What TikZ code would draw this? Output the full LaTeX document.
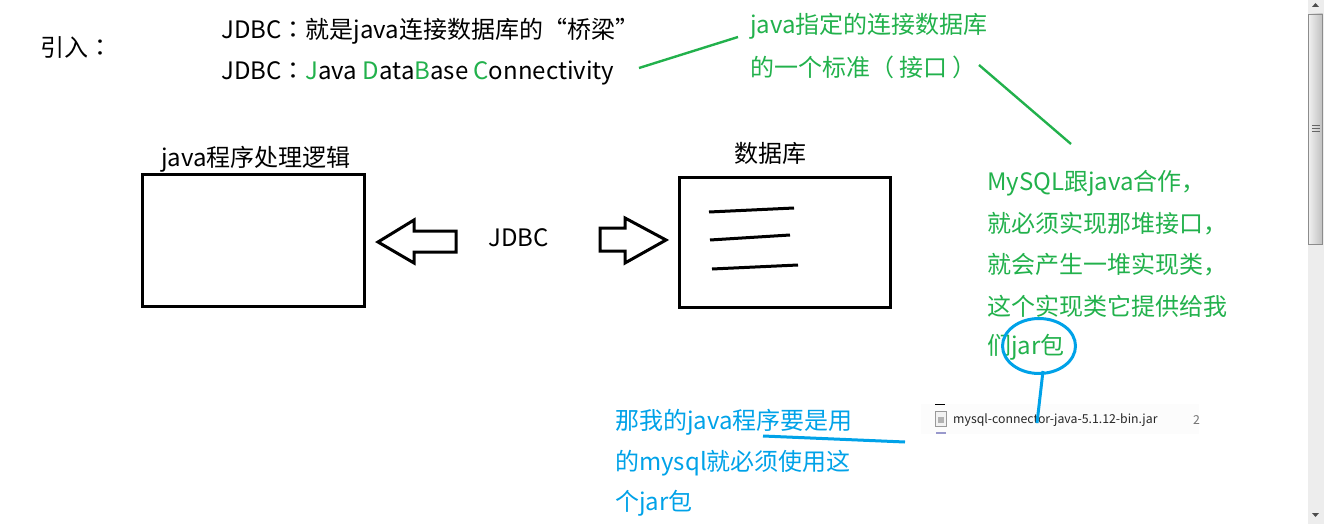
\documentclass[tikz,border=0pt]{standalone}
\usepackage{fontspec}
\setmainfont{Noto Sans CJK SC}
\newfontfamily\punct{Noto Sans CJK TC}
\usetikzlibrary{shapes.geometric}

\definecolor{notegreen}{RGB}{34,177,76}
\definecolor{noteblue}{RGB}{0,162,232}
\tikzset{
    txt/.style={anchor=west, inner sep=0pt, font=\fontsize{24}{28}\selectfont},
    greentxt/.style={txt, text=notegreen},
    bluetxt/.style={txt, text=noteblue},
    jartxt/.style={anchor=west, inner sep=0pt, font=\fontsize{12.3}{15}\selectfont},
    greenline/.style={draw=notegreen, line width=2.4pt},
    blueline/.style={draw=noteblue, line width=3pt},
    blackbox/.style={draw=black, line width=3pt},
}

\begin{document}
\begin{tikzpicture}[x=1pt, y=-1pt]
    \useasboundingbox (0,0) rectangle (1324,524);

    % top text
    \node[txt] (intro) at (40,48) {引入{\punct ：}};
    \node[txt] (def) at (221,31) {JDBC{\punct ：}就是java连接数据库的“桥梁”};
    \node[txt] (full) at (221,73) {JDBC{\punct ：}\textcolor{notegreen}{J}ava \textcolor{notegreen}{D}ata\textcolor{notegreen}{B}ase \textcolor{notegreen}{C}onnectivity};

    % green notes
    \node[greentxt] (std1) at (750,26) {java指定的连接数据库};
    \node[greentxt] (std2) at (750,67) {的一个标准{\punct （}\hspace{5pt}接口\hspace{5pt}{\punct ）}};
    \node[greentxt] (my1) at (987,183) {MySQL跟java合作，};
    \node[greentxt] (my2) at (987,224) {就必须实现那堆接口，};
    \node[greentxt] (my3) at (987,265) {就会产生一堆实现类，};
    \node[greentxt] (my4) at (987,306) {这个实现类它提供给我};
    \node[greentxt] (my5) at (987,347) {们jar包};

    \coordinate (g1a) at (639,68);
    \coordinate (g1b) at (738,37);
    \coordinate (g2a) at (979,65);
    \coordinate (g2b) at (1071,144);
    \draw[greenline] (g1a) -- (g1b);
    \draw[greenline] (g2a) -- (g2b);

    % boxes
    \node[txt] (prog) at (161,159) {java程序处理逻辑};
    \node[txt] (db) at (734,153) {数据库};
    \node[blackbox, minimum width=222pt, minimum height=132pt, inner sep=0pt] (progbox) at (253,240) {};
    \node[blackbox, minimum width=211pt, minimum height=130pt, inner sep=0pt] (dbbox) at (785,242) {};
    \node[txt] (jdbc) at (488,238) {JDBC};

    % arrows
    \draw[blackbox, line join=miter] (456,231) -- (414,231) -- (414,220) -- (378,242) -- (414,263) -- (414,252) -- (456,252) -- cycle;
    \draw[blackbox, line join=miter] (600,228) -- (625,228) -- (625,218) -- (666,240) -- (625,263) -- (625,251) -- (600,251) -- cycle;

    % lines in the db box
    \coordinate (l1a) at (709,212);
    \coordinate (l1b) at (794,208);
    \coordinate (l2a) at (710,240);
    \coordinate (l2b) at (790,235);
    \coordinate (l3a) at (712,269);
    \coordinate (l3b) at (798,265);
    \draw[blackbox] (l1a) -- (l1b);
    \draw[blackbox] (l2a) -- (l2b);
    \draw[blackbox] (l3a) -- (l3b);

    % jar file strip
    \fill[black!1] (921,404) rectangle (1199,434);
    \node[inner sep=0pt, draw=black!40, fill=black!5, minimum width=11pt, minimum height=15pt] (jaricon) at (941,419) {};
    \fill[black!30] (938,417) rectangle (944,423);
    \fill[black] (935,404) rectangle (945,405);
    \fill[blue!50!black!40] (936,432) rectangle (946,434);
    \node[jartxt, text=black!85] (jar) at (953,420) {mysql-connector-java-5.1.12-bin.jar};
    \node[jartxt, text=black!55] (jarsize) at (1193,420) {2};

    % blue notes
    \node[bluetxt] (use1) at (615,422) {那我的java程序要是用};
    \node[bluetxt] (use2) at (615,463) {的mysql就必须使用这};
    \node[bluetxt] (use3) at (615,503) {个jar包};

    \node[draw=noteblue, line width=3pt, ellipse, minimum width=73pt, minimum height=55pt, inner sep=0pt] (ring) at (1039,346) {};
    \coordinate (b1) at (1043,371);
    \coordinate (b2) at (1037,423);
    \draw[blueline] (b1) -- (b2);
    \coordinate (b3) at (763,436);
    \coordinate (b4) at (905,442);
    \draw[blueline] (b3) -- (b4);

    % scrollbar
    \fill[black!7] (1308,0) rectangle (1324,524);
    \shade[left color=black!6, right color=black!25, draw=black!45] (1308.5,14) rectangle (1322.5,244);
    \foreach \y in {125,128,131} \draw[black!60] (1312,\y) -- (1320,\y);
    \fill[black!70] (1312,7) -- (1319,7) -- (1315.5,3) -- cycle;
    \fill[black!70] (1312,513) -- (1319,513) -- (1315.5,517) -- cycle;
\end{tikzpicture}
\end{document}
